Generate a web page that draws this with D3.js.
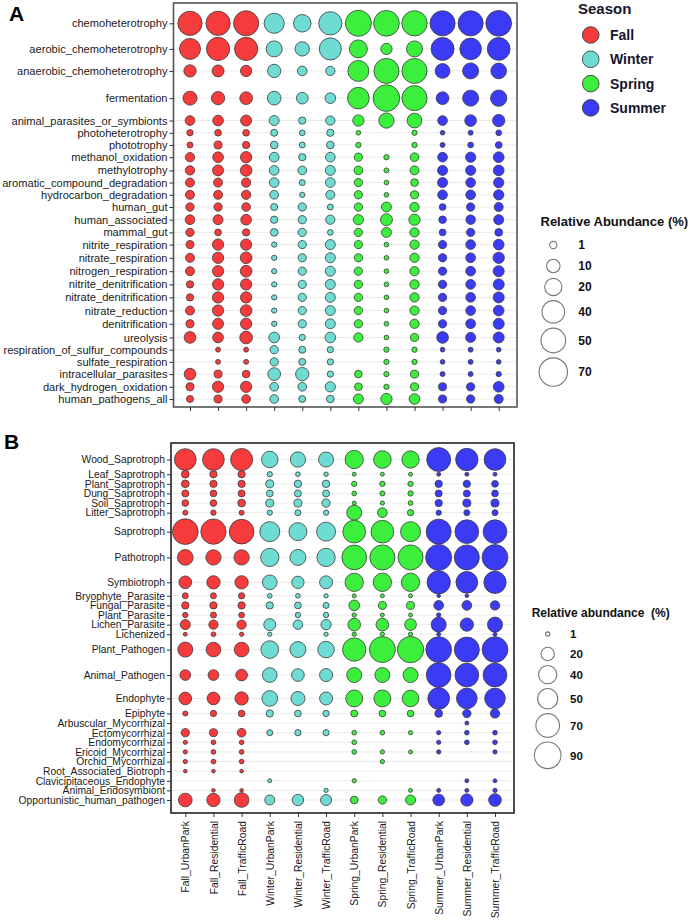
<!DOCTYPE html>
<html>
<head>
<meta charset="utf-8">
<script src="https://cdn.jsdelivr.net/npm/d3@7"></script>
<style>
  body { margin: 0; background: #fff; }
  text { font-family: "Liberation Sans", Arial, sans-serif; }
</style>
</head>
<body>
<div id="chart"></div>
<script>
// samples on the x axis (season_site)
var samples = ["Fall_UrbanPark", "Fall_Residential", "Fall_TrafficRoad",
  "Winter_UrbanPark", "Winter_Residential", "Winter_TrafficRoad",
  "Spring_UrbanPark", "Spring_Residential", "Spring_TrafficRoad",
  "Summer_UrbanPark", "Summer_Residential", "Summer_TrafficRoad"];
var seasons = ["Fall", "Winter", "Spring", "Summer"];

// panel A: bacterial functions (FAPROTAX), relative abundance %
var functionsA = ["chemoheterotrophy", "aerobic_chemoheterotrophy", "anaerobic_chemoheterotrophy",
  "fermentation", "animal_parasites_or_symbionts", "photoheterotrophy", "phototrophy",
  "methanol_oxidation", "methylotrophy", "aromatic_compound_degradation", "hydrocarbon_degradation",
  "human_gut", "human_associated", "mammal_gut", "nitrite_respiration", "nitrate_respiration",
  "nitrogen_respiration", "nitrite_denitrification", "nitrate_denitrification", "nitrate_reduction",
  "denitrification", "ureolysis", "respiration_of_sulfur_compounds", "sulfate_respiration",
  "intracellular_parasites", "dark_hydrogen_oxidation", "human_pathogens_all"];
var abundanceA = [
  [48, 48, 52, 30, 21, 43, 57, 55, 53, 52, 52, 55],
  [33.5, 43, 43, 16.4, 12, 38, 22.5, 5.8, 16.4, 42, 36, 41],
  [7.6, 7, 5.8, 9.6, 3.4, 2.9, 33.5, 52, 52, 13, 16.4, 15.5],
  [11.2, 9.6, 8.4, 10.5, 6.5, 4.8, 36, 60, 52, 8.4, 16.4, 17.2],
  [3.4, 4.8, 5.3, 3.8, 1, 2.9, 5.8, 14.4, 13, 3.4, 6.5, 7.6],
  [0.44, 0.64, 0.64, 0.82, 0.21, 1.0, 0.01, null, 0.1, 0.01, 0.04, 0.21],
  [0.31, 1.6, 1.0, 1.3, 0.31, 1.3, 0.1, null, 0.1, 0.04, 0.21, 0.64],
  [2.9, 4.8, 5.8, 3.4, 1.0, 3.4, 1.85, 0.1, 2.25, 3.4, 4.2, 4.8],
  [2.9, 5.3, 6.5, 3.4, 2.25, 3.8, 2.25, 0.04, 2.6, 3.8, 3.8, 4.8],
  [2.6, 2.6, 2.9, 3.4, 0.31, 3.4, 1.85, 0.01, 1.3, 3.8, 3.4, 4.2],
  [2.6, 2.6, 2.9, 2.25, 0.1, 2.6, 1.85, 0.01, 1.6, 3.4, 3.4, 4.2],
  [1.85, 1.85, 2.25, 0.82, 1.85, 0.31, 1.85, 3.8, 2.9, 0.64, 1.85, 2.6],
  [3.4, 3.8, 4.8, 1.0, 1.85, 2.9, 4.2, 7, 5.8, 1.2, 3.2, 3.8],
  [1.85, 0.64, 1.0, 1.3, 1.85, 0.21, 1.85, 3.8, 2.9, 0.64, 1.85, 1.3],
  [1.6, 5.8, 5.8, 0.1, 1.85, 3.8, 1.85, 0.01, 2.9, 1.85, 3.4, 4.8],
  [2.6, 5.8, 6.5, 0.1, 1.85, 3.8, 1.85, 0.01, 2.9, 1.85, 3.4, 5.8],
  [2.6, 5.8, 6.5, 0.1, 1.85, 3.8, 1.85, 0.01, 2.9, 1.85, 3.4, 5.3],
  [1.0, 5.8, 5.8, 0.1, 1.85, 3.8, 1.85, 0.01, 2.9, 1.85, 3.4, 5.3],
  [1.0, 5.8, 5.8, 0.1, 1.85, 3.8, 1.85, 0.01, 2.9, 1.85, 3.4, 5.3],
  [2.6, 5.8, 6.5, 0.1, 1.85, 3.8, 1.85, 0.01, 2.9, 1.85, 3.4, 4.8],
  [1.6, 5.3, 5.8, 0.1, 1.85, 3.8, 1.85, 0.01, 2.9, 1.85, 3.4, 5.3],
  [6.5, 4.8, 8.4, 4.8, 0.44, 4.8, 2.9, 0.01, 1.6, 6.5, 3.8, 5.3],
  [null, 0.04, 0.04, 1.85, 0.82, 0.44, null, 0.1, 0.1, 0.01, 0.04, 0.01],
  [null, 0.04, 0.04, 1.85, 0.82, 0.44, null, 0.1, 0.1, 0.01, 0.04, 0.01],
  [6.5, 1.6, 1.3, 8.4, 9.6, 0.44, 1.3, 0.1, 1.6, 0.04, 0.04, 0.1],
  [1.6, 5.8, 5.8, 2.25, 2.25, 4.2, 1.3, 0.1, 1.6, 1.6, 1.85, 4.8],
  [0.82, 1.6, 2.25, 2.25, 0.82, 1.3, 3.8, 5.8, 4.8, 1.6, 1.85, 2.6]
];

// panel B: fungal guilds (FUNGuild), relative abundance %
var guildsB = ["Wood_Saprotroph", "Leaf_Saprotroph", "Plant_Saprotroph", "Dung_Saprotroph",
  "Soil_Saprotroph", "Litter_Saprotroph", "Saprotroph", "Pathotroph", "Symbiotroph",
  "Bryophyte_Parasite", "Fungal_Parasite", "Plant_Parasite", "Lichen_Parasite", "Lichenized",
  "Plant_Pathogen", "Animal_Pathogen", "Endophyte", "Epiphyte", "Arbuscular_Mycorrhizal",
  "Ectomycorrhizal", "Endomycorrhizal", "Ericoid_Mycorrhizal", "Orchid_Mycorrhizal",
  "Root_Associated_Biotroph", "Clavicipitaceous_Endophyte", "Animal_Endosymbiont",
  "Opportunistic_human_pathogen"];
var abundanceB = [
  [58, 58, 60, 32, 27, 26, 40, 37, 35.5, 72, 62, 58],
  [5.4, 4.7, 4.7, 2, 1.4, 1.2, 0.8, 0.8, 0.8, 0.8, 0.8, 0.8],
  [5.4, 4.7, 4.7, 5.9, 5, 5, 2, 2, 2, 4.7, 4.7, 3.75],
  [4.2, 3.75, 4.2, 3.75, 4.2, 4.2, 1.4, 1.7, 2, 4.2, 4.2, 3.75],
  [3.75, 3.75, 5.4, 5.9, 5.9, 6.5, 0.8, 1.05, 1.4, 4.7, 5.9, 5.9],
  [1.7, 2, 1.7, 2, 2.8, 2, 25.9, 9.5, 3.2, 2, 2.8, 2.8],
  [83.6, 80.9, 76.8, 48.8, 38.7, 43.6, 64.1, 64.1, 48.8, 78.9, 70.3, 70.3],
  [28.6, 27, 27, 40.2, 29.9, 40.2, 76.8, 78.9, 78.9, 85.7, 78.9, 83.6],
  [17.7, 19.7, 19.7, 24.7, 16.5, 18.7, 40.2, 40.2, 40.2, 67.8, 58.2, 61.7],
  [2.8, 2.8, 3.2, 1.4, 1.4, 1.05, 0.8, 0.8, 0.8, 0.6, 0.6, null],
  [4.7, 4.7, 4.7, 4.7, 3.9, 2.8, 11.9, 5.9, 5.9, 9.5, 9.5, 8.5],
  [2, 2.8, 2.4, null, 2, 2, 1.05, 0.8, 0.8, 1.05, null, null],
  [10.2, 8.5, 8.5, 15.6, 9, 10.9, 17.7, 17.7, 14.7, 25.9, 19.7, 25.9],
  [0.8, 1.4, 1.05, 1.05, null, 1.05, 1.05, 1.05, 1.05, 0.8, null, 0.8],
  [25.9, 24.7, 24.7, 37.3, 29.9, 32, 67.8, 85.7, 87.9, 83.6, 78.9, 83.6],
  [11.9, 11.9, 14.7, 24.7, 17.7, 18.7, 25.9, 25.9, 25.9, 76.8, 70.3, 70.3],
  [17.7, 17.7, 19.7, 28.6, 22.1, 18.7, 34.2, 34.2, 32.8, 58.2, 52.5, 52.5],
  [1.7, 3.2, 3.75, 4.7, 3.75, 3.2, 4.2, 3.75, 3.75, 5.4, 6.5, 8.5],
  [null, null, null, null, null, null, null, null, null, null, 0.8, null],
  [6.5, 5.9, 7.3, 2.8, 3.2, 3.05, 1.4, 1.4, 1.05, 1.05, 1.4, 1.4],
  [1.05, 1.4, 1.4, null, null, null, 1.4, null, null, 1.05, 1.4, 1.4],
  [1.05, 1.4, 1.4, null, null, null, 1.4, 1.05, 0.8, 1.05, null, 1.05],
  [1.05, 1.4, 1.4, null, null, null, null, 1.05, null, null, null, null],
  [0.6, 0.6, 0.6, null, null, null, null, null, null, null, null, null],
  [null, null, null, 0.8, null, null, 1.05, null, null, null, 0.8, 0.8],
  [null, 0.6, 0.6, null, null, 1.05, null, null, 0.8, 0.8, 0.8, 1.05],
  [21.1, 19.7, 24.7, 10.2, 14.1, 12.7, 5.4, 6.5, 10.2, 14.7, 16.5, 17.7]
];

// size legend breaks
var legendA = [1, 10, 20, 40, 50, 70];
var legendB = [1, 20, 40, 50, 70, 90];

var width = 692, height = 920;

var color = d3.scaleOrdinal()
  .domain(seasons)
  .range(["#f53b3b", "#6edcd3", "#3cef3c", "#3b3bf5"]);

// bubble size scales (sqrt -> area proportional)
var sizeA = d3.scaleSqrt().domain([0, 70]).range([2.2, 14.2]);
var sizeB = d3.scaleSqrt().domain([0, 90]).range([0.8, 13.3]);

var svg = d3.select("#chart")
  .append("svg")
    .attr("width", width)
    .attr("height", height);

// row spacing follows the bubbles: rows open up where big bubbles sit
function rowPositions(rows, size, minGap, pad) {
  var pos = [0];
  for (var i = 1; i < rows.length; i++) {
    var m = 0;
    for (var c = 0; c < rows[i].length; c++) {
      var a = rows[i - 1][c] == null ? 0 : size(rows[i - 1][c]);
      var b = rows[i][c] == null ? 0 : size(rows[i][c]);
      m = Math.max(m, a + b);
    }
    pos.push(pos[i - 1] + Math.max(minGap, m + pad));
  }
  return pos;
}

function drawPanel(p) {
  var g = svg.append("g");

  var x = d3.scalePoint().domain(samples).range(p.xRange);

  var pos = rowPositions(p.rows, p.size, p.minGap, p.pad);
  var fit = d3.scaleLinear().domain([0, pos[pos.length - 1]]).range(p.yRange);
  var y = d3.scaleOrdinal().domain(p.labels).range(pos.map(fit));

  // horizontal grid
  g.selectAll(".grid")
    .data(p.labels)
    .enter().append("line")
      .attr("x1", p.frame[0]).attr("x2", p.frame[1])
      .attr("y1", function(d) { return y(d); })
      .attr("y2", function(d) { return y(d); })
      .attr("stroke", "#ebebeb")
      .attr("stroke-width", 1);

  // bubbles
  var cells = [];
  p.rows.forEach(function(row, i) {
    row.forEach(function(v, c) {
      if (v != null) cells.push({label: p.labels[i], sample: samples[c], value: v});
    });
  });
  g.selectAll(".bubble")
    .data(cells)
    .enter().append("circle")
      .attr("cx", function(d) { return x(d.sample); })
      .attr("cy", function(d) { return y(d.label); })
      .attr("r", function(d) { return p.size(d.value); })
      .attr("fill", function(d) { return color(d.sample.split("_")[0]); })
      .attr("stroke", "#3a3a3a")
      .attr("stroke-width", 0.8);

  // frame
  g.append("rect")
    .attr("x", p.frame[0]).attr("y", p.frame[2])
    .attr("width", p.frame[1] - p.frame[0])
    .attr("height", p.frame[3] - p.frame[2])
    .attr("fill", "none")
    .attr("stroke", p.frameColor)
    .attr("stroke-width", 1.6);

  // y axis
  var ya = g.append("g")
    .attr("transform", "translate(" + p.frame[0] + ",0)")
    .call(d3.axisLeft(y).tickSize(4).tickPadding(2));
  ya.select(".domain").remove();
  ya.selectAll("line").attr("stroke", "#333");
  ya.selectAll("text")
    .style("font-size", p.labelSize + "px")
    .attr("fill", "#1a1a1a");

  // x axis
  var xa = g.append("g")
    .attr("transform", "translate(0," + p.frame[3] + ")")
    .call(d3.axisBottom(x).tickSize(4));
  xa.select(".domain").remove();
  xa.selectAll("line").attr("stroke", "#333");
  if (p.xLabels) {
    xa.selectAll("text")
      .attr("transform", "rotate(-90)")
      .attr("x", -8)
      .attr("y", 0)
      .attr("dy", "0.35em")
      .style("text-anchor", "end")
      .style("font-size", "10.3px")
      .attr("fill", "#1a1a1a");
  } else {
    xa.selectAll("text").remove();
  }

  // panel letter
  svg.append("text")
    .attr("x", p.letterPos[0]).attr("y", p.letterPos[1])
    .text(p.letter)
    .style("font-size", "21px")
    .style("font-weight", "bold");
}

drawPanel({
  rows: abundanceA, labels: functionsA, size: sizeA,
  frame: [173.5, 517, 3, 407],
  xRange: [190, 498.7], yRange: [23.3, 399],
  minGap: 12.5, pad: 2,
  labelSize: 11.1, xLabels: false, frameColor: "#555",
  letter: "A", letterPos: [9, 20.5]
});

drawPanel({
  rows: abundanceB, labels: guildsB, size: sizeB,
  frame: [171, 514, 443, 813],
  xRange: [185.3, 495], yRange: [459.5, 800],
  minGap: 9.4, pad: -0.3,
  labelSize: 10.3, xLabels: true, frameColor: "#222",
  letter: "B", letterPos: [4, 449]
});

// season legend
var seasonLegend = svg.append("g");
seasonLegend.append("text")
  .attr("x", 578).attr("y", 14)
  .text("Season")
  .style("font-size", "15px").style("font-weight", "bold")
  .attr("fill", "#16162e");
seasons.forEach(function(s, i) {
  var cy = 35 + i * 24.3;
  seasonLegend.append("circle")
    .attr("cx", 590.7).attr("cy", cy).attr("r", 8.3)
    .attr("fill", color(s)).attr("stroke", "#3a3a3a").attr("stroke-width", 0.9);
  seasonLegend.append("text")
    .attr("x", 610).attr("y", cy + 5)
    .text(s)
    .style("font-size", "14px").style("font-weight", "bold")
    .attr("fill", "#16162e");
});

// size legends
function sizeLegend(o) {
  var g = svg.append("g");
  g.append("text")
    .attr("x", o.titleX).attr("y", o.titleY)
    .text(o.title)
    .style("font-size", o.titleSize + "px").style("font-weight", "bold")
    .style("white-space", "pre")
    .attr("fill", "#111");
  var cy = o.firstY;
  o.breaks.forEach(function(v, i) {
    if (i > 0) cy += Math.max(o.minGap, o.size(o.breaks[i - 1]) + o.size(v) + o.pad);
    g.append("circle")
      .attr("cx", o.cx).attr("cy", cy).attr("r", o.size(v))
      .attr("fill", "#fff").attr("stroke", "#777").attr("stroke-width", 1.1);
    g.append("text")
      .attr("x", o.labelX).attr("y", cy + 4.2)
      .text(v)
      .style("font-size", o.labelSize + "px").style("font-weight", "bold")
      .attr("fill", "#111");
  });
}

sizeLegend({
  breaks: legendA, size: sizeA, title: "Relative Abundance (%)",
  titleX: 540.5, titleY: 226, titleSize: 13,
  cx: 553.3, firstY: 245, minGap: 21, pad: 5,
  labelX: 578.3, labelSize: 12
});

sizeLegend({
  breaks: legendB, size: sizeB, title: "Relative abundance\u00a0\u00a0(%)",
  titleX: 531.7, titleY: 616.5, titleSize: 12,
  cx: 547.7, firstY: 634, minGap: 20, pad: 4.8,
  labelX: 570, labelSize: 11.5
});
</script>
</body>
</html>
